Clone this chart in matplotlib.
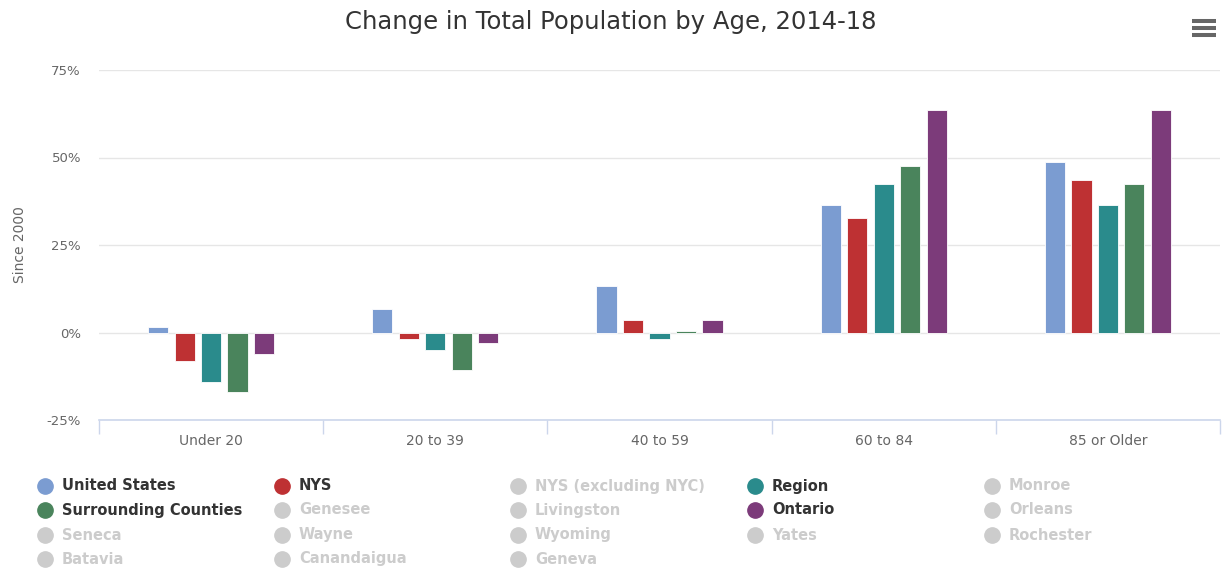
import matplotlib
matplotlib.use("Agg")
import matplotlib.pyplot as plt
import numpy as np
from matplotlib.lines import Line2D

# Data
categories = ["Under 20", "20 to 39", "40 to 59", "60 to 84", "85 or Older"]
series_names = ["United States", "NYS", "Region", "Surrounding Counties", "Ontario"]
us = [1.7, 6.8, 13.4, 36.5, 48.7]
nys = [-8.1, -1.8, 3.6, 32.6, 43.5]
region = [-14.0, -5.0, -1.8, 42.4, 36.5]
surrounding = [-17.0, -10.8, 0.5, 47.5, 42.4]
ontario = [-6.2, -3.0, 3.6, 63.5, 63.5]
series_values = [us, nys, region, surrounding, ontario]
series_colors = ["#7B9CD1", "#BE3133", "#2A8B8C", "#4A845C", "#7C3B7A"]

yticks = [-25, 0, 25, 50, 75]

legend_items = [
    ("United States", "#7B9CD1"), ("NYS", "#BE3133"), ("NYS (excluding NYC)", None),
    ("Region", "#2A8B8C"), ("Monroe", None),
    ("Surrounding Counties", "#4A845C"), ("Genesee", None), ("Livingston", None),
    ("Ontario", "#7C3B7A"), ("Orleans", None),
    ("Seneca", None), ("Wayne", None), ("Wyoming", None), ("Yates", None),
    ("Rochester", None),
    ("Batavia", None), ("Canandaigua", None), ("Geneva", None),
]

W, H = 1222, 571
fig = plt.figure(figsize=(W / 100, H / 100), dpi=100)
ax = fig.add_axes([99 / W, 1 - 420 / H, 1121 / W, 350 / H])

x = np.arange(len(categories))
step = 0.118
width = 0.09
for i, (vals, col) in enumerate(zip(series_values, series_colors)):
    ax.bar(x + (i - 2) * step, vals, width=width, color=col, zorder=3,
           edgecolor="white", linewidth=0.6)

ax.set_xlim(-0.5, len(categories) - 0.5)
ax.set_ylim(-25, 75)
ax.set_yticks(yticks)
ax.set_yticklabels([f"{v}%" for v in yticks], color="#666666", fontsize=9.5)
ax.grid(axis="y", color="#E6E6E6", linewidth=1, zorder=0)
ax.tick_params(axis="y", length=0, pad=13)

# category labels between boundary ticks
ax.set_xticks(np.arange(len(categories) + 1) - 0.5)
ax.set_xticklabels([])
ax.set_xticks(x, minor=True)
ax.set_xticklabels(categories, minor=True, color="#666666", fontsize=10)
ax.tick_params(axis="x", which="major", length=10, color="#CCD6EB", width=1)
ax.tick_params(axis="x", which="minor", length=0, pad=10)

for s in ["top", "right", "left"]:
    ax.spines[s].set_visible(False)
ax.spines["bottom"].set_color("#CCD6EB")
ax.spines["bottom"].set_linewidth(1.2)

ax.set_ylabel("Since 2000", color="#666666", fontsize=10, labelpad=14)

fig.text(611 / W, 1 - 22 / H, "Change in Total Population by Age, 2014-18",
         ha="center", va="center", fontsize=17.5, color="#333333")

# hamburger menu icon
for yy in (21, 28, 35):
    fig.add_artist(Line2D([1192 / W, 1216 / W], [1 - yy / H] * 2,
                          color="#666666", linewidth=2.9,
                          solid_capstyle="butt"))

# legend, 5 columns filled row by row
col_x = [45, 282, 518, 755, 992]
row_y = [486, 510, 535, 559]
for k, (name, col) in enumerate(legend_items):
    r, c = divmod(k, 5)
    mx, my = col_x[c] / W, 1 - row_y[r] / H
    mcol = col if col else "#CCCCCC"
    tcol = "#333333" if col else "#CCCCCC"
    fig.add_artist(Line2D([mx], [my], marker="o", markersize=11,
                          color=mcol, linestyle="none"))
    fig.text(mx + 17 / W, my, name, ha="left", va="center",
             fontsize=10.5, fontweight="bold", color=tcol)

fig.savefig("out.png", dpi=100)
